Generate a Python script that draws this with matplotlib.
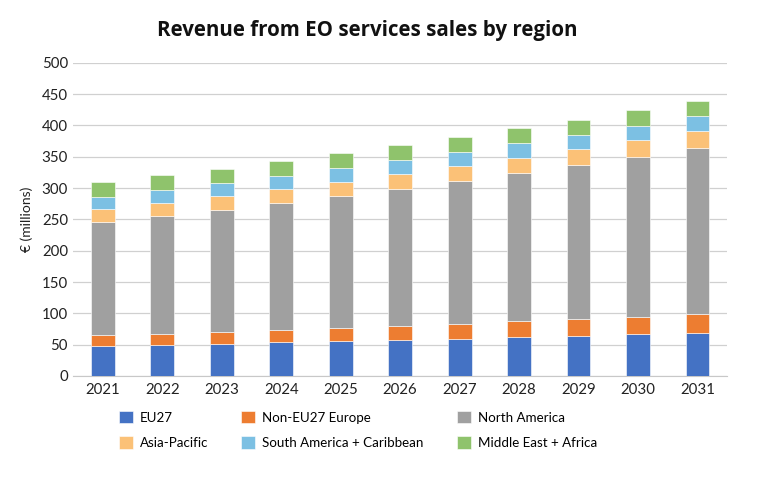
import matplotlib
matplotlib.use("Agg")
import matplotlib.pyplot as plt
import numpy as np

years = ["2021", "2022", "2023", "2024", "2025", "2026", "2027", "2028", "2029", "2030", "2031"]
eu27 = [47.3, 49.5, 51.6, 53.7, 55.3, 57.4, 59.6, 62.2, 64.4, 67.0, 69.1]
non_eu27 = [17.6, 18.1, 19.1, 19.7, 21.8, 22.9, 23.9, 25.0, 26.0, 27.1, 29.3]
north_america = [180.3, 187.7, 194.7, 202.6, 210.7, 218.6, 227.7, 236.7, 246.3, 255.9, 266.0]
asia_pacific = [20.8, 20.7, 21.8, 22.4, 22.3, 24.0, 23.9, 24.5, 25.5, 27.1, 27.1]
south_america = [19.6, 20.8, 20.2, 21.3, 22.0, 21.8, 22.3, 22.9, 22.9, 22.4, 23.4]
mea = [24.0, 23.4, 23.6, 23.5, 23.5, 23.4, 24.0, 23.9, 23.9, 24.5, 23.9]

series = [
    ("EU27", eu27, "#4472C4"),
    ("Non-EU27 Europe", non_eu27, "#ED7D31"),
    ("North America", north_america, "#A0A0A0"),
    ("Asia-Pacific", asia_pacific, "#FBC177"),
    ("South America + Caribbean", south_america, "#7CC0E3"),
    ("Middle East + Africa", mea, "#8FC36C"),
]

plt.rcParams['font.family'] = ['Lato', 'DejaVu Sans']

fig = plt.figure(figsize=(7.68, 4.87), dpi=100)
ax = fig.add_axes([0.095, 0.228, 0.852, 0.643])

x = np.arange(len(years))
bottom = np.zeros(len(years))
handles = {}
for name, vals, col in series:
    v = np.array(vals)
    b = ax.bar(x, v, 0.40, bottom=bottom, color=col, edgecolor="white", linewidth=0.4, label=name, zorder=3)
    handles[name] = b
    bottom += v

ax.set_xlim(-0.5, len(years) - 0.5)
ax.set_ylim(0, 500)
ax.set_yticks(np.arange(0, 501, 50))
ax.set_xticks(x)
ax.set_xticklabels(years)
ax.tick_params(axis='both', labelsize=10.8, length=0, colors="#222222")
ax.tick_params(axis='x', pad=5)
ax.yaxis.grid(True, color="#D0D0D0", linewidth=0.9, zorder=0)
for s in ["top", "right", "left"]:
    ax.spines[s].set_visible(False)
ax.spines["bottom"].set_color("#C8C8C8")
ax.set_ylabel("€ (millions)", fontsize=10, color="#222222", labelpad=6)

fig.text(0.4785, 0.937, "Revenue from EO services sales by region", ha="center", va="center",
         fontsize=14.8, fontweight="bold", color="#111111", family=["Open Sans", "DejaVu Sans"])

order = ["EU27", "Asia-Pacific", "Non-EU27 Europe", "South America + Caribbean", "North America", "Middle East + Africa"]
leg = fig.legend([handles[n] for n in order], order, ncol=3, loc="center", bbox_to_anchor=(0.466, 0.117),
                 frameon=False, fontsize=9.6, handlelength=1.05, handleheight=1.05, handletextpad=0.5,
                 columnspacing=2.5, labelspacing=0.95)

fig.savefig("out.png", dpi=100)
